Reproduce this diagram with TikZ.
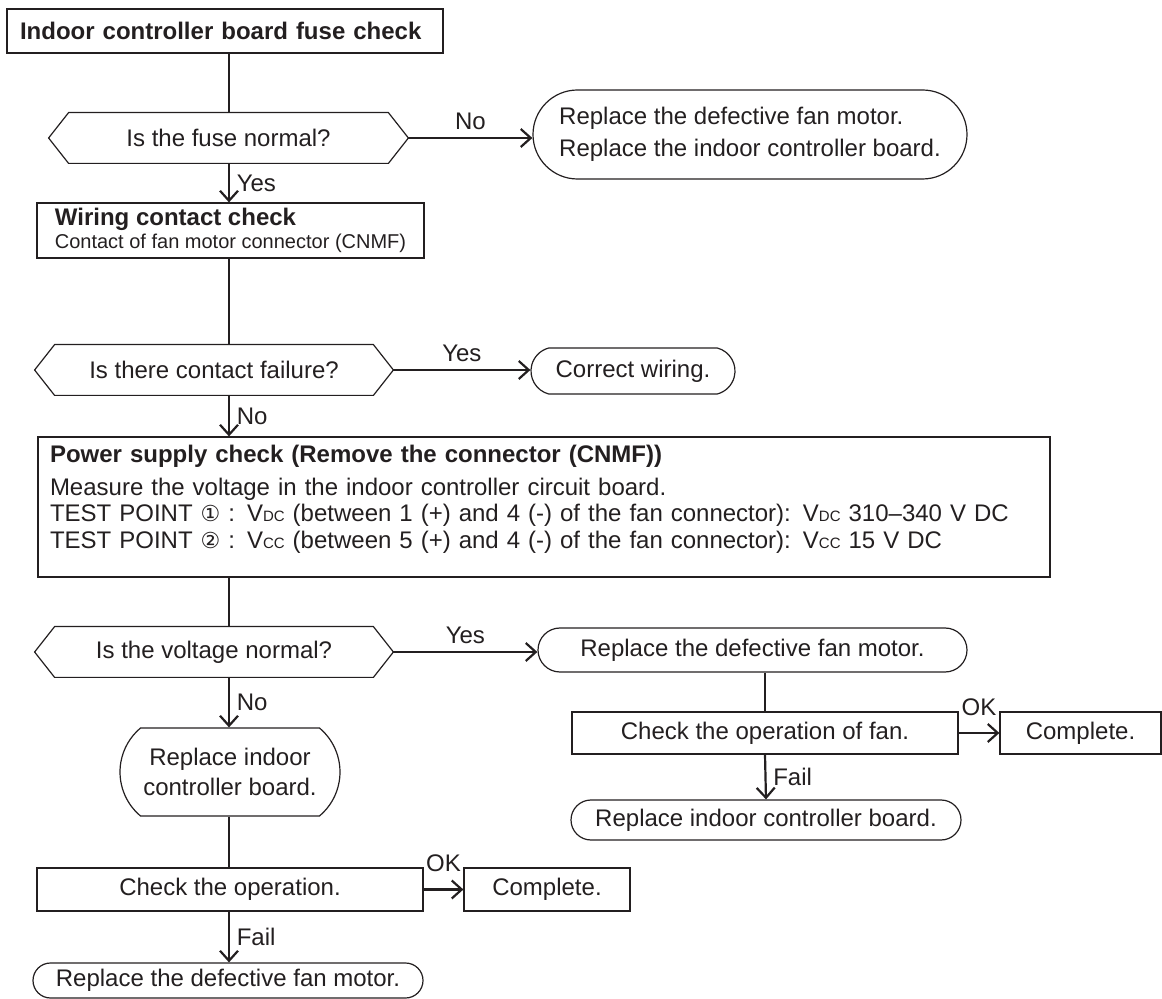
\documentclass[tikz,border=0pt]{standalone}
\usepackage{fontspec}
\setmainfont{Liberation Sans}
\newfontfamily\circfont{DejaVu Sans}
\usetikzlibrary{arrows.meta,positioning,shapes.misc}
\definecolor{ink}{HTML}{231F20}
\newcommand{\vsub}[1]{{\fontsize{7.5}{8}\selectfont #1}}
\newcommand{\tp}[1]{{\circfont\fontsize{11}{11}\selectfont #1}}

\begin{document}
\begin{tikzpicture}[x=0.5pt, y=-0.5pt, font=\fontsize{12}{14}\selectfont, text=ink,
  box/.style={draw=ink, line width=0.6pt, inner sep=0pt},
  decision/.style={inner sep=0pt, minimum width=#1, minimum height=25pt},
  terminal/.style={draw=ink, line width=0.6pt, rounded rectangle, inner sep=0pt},
  border/.style={draw=ink, line width=0.6pt},
  conn/.style={draw=ink, line width=1.1pt},
  connarrow/.style={conn, -{Straight Barb[length=5pt,width=9pt]}}]
  \useasboundingbox (0,0) rectangle (1162,999);
  \coordinate (spine) at (229,0);

  % main column
  \node[box, minimum width=218pt, minimum height=22pt, text width=205pt, align=left,
        font=\fontsize{12}{14}\selectfont\bfseries] (start) at (225,31) {Indoor controller board fuse check};
  \node[decision=179.5pt] (fuse) at (228.5,138) {Is the fuse normal?};
  \node[terminal, minimum width=217pt, minimum height=44.5pt, align=left,
        font=\fontsize{12}{16}\selectfont] (replaceA) at (750,134.5)
        {Replace the defective fan motor.\\Replace the indoor controller board.};
  \node[box, minimum width=193.5pt, minimum height=27.5pt, align=left,
        font=\fontsize{12}{11.5}\selectfont] (wiring) at (230.5,230.5)
        {\textbf{Wiring contact check}\\{\fontsize{10}{11.5}\selectfont Contact of fan motor connector (CNMF)}};
  \node[decision=179pt] (contact) at (214,370) {Is there contact failure?};
  \node[terminal, minimum width=102pt, minimum height=23pt, rounded rectangle arc length=150] (correct) at (633,371) {Correct wiring.};
  \node[box, minimum width=506pt, minimum height=70pt, text width=494pt, align=left,
        font=\fontsize{12}{13.25}\selectfont] (power) at (544,507)
        {\textbf{Power supply check (Remove the connector (CNMF))}\\[3pt]
         Measure the voltage in the indoor controller circuit board.\\
         TEST POINT \tp{①} : V\vsub{DC} (between 1 (+) and 4 (-) of the fan connector): V\vsub{DC} 310–340 V DC\\
         TEST POINT \tp{②} : V\vsub{CC} (between 5 (+) and 4 (-) of the fan connector): V\vsub{CC} 15 V DC\rule[-10pt]{0pt}{10pt}};
  \node[decision=179pt] (voltage) at (214,652) {Is the voltage normal?};

  % right branch
  \node[terminal, minimum width=214.5pt, minimum height=22pt] (replaceB) at (752.5,650) {Replace the defective fan motor.};
  \node[box, minimum width=193pt, minimum height=21pt] (checkfan) at (765,733) {Check the operation of fan.};
  \node[box, minimum width=80.5pt, minimum height=21pt] (doneR) at (1080.5,733) {Complete.};
  \node[terminal, minimum width=195pt, minimum height=20pt] (boardR) at (766,820) {Replace indoor controller board.};

  % left branch
  \node[terminal, minimum width=110pt, minimum height=44pt, rounded rectangle arc length=100, align=center,
        font=\fontsize{12}{15}\selectfont] (boardL) at (230,772) {Replace indoor\\controller board.};
  \node[box, minimum width=193pt, minimum height=21.5pt] (checkop) at (230,889.5) {Check the operation.};
  \node[box, minimum width=83pt, minimum height=21.5pt] (doneL) at (547,889.5) {Complete.};
  \node[terminal, minimum width=195pt, minimum height=17.5pt] (fanL) at (228,980.5) {Replace the defective fan motor.};

  \foreach \h in {fuse,contact,voltage}
    \draw[border] ([xshift=10pt]\h.north west) -- ([xshift=-10pt]\h.north east) -- (\h.east)
      -- ([xshift=-10pt]\h.south east) -- ([xshift=10pt]\h.south west) -- (\h.west) -- cycle;

  \draw[conn] (start.south -| spine) -- (fuse.north -| spine);
  \draw[connarrow] (fuse.east) -- node[above] {No} (fuse.east -| replaceA.west);
  \draw[connarrow] (fuse.south -| spine) -- node[right] {Yes} (wiring.north -| spine);
  \draw[conn] (wiring.south -| spine) -- (contact.north -| spine);
  \draw[connarrow] (contact.east) -- node[above] {Yes} (contact.east -| correct.west);
  \draw[connarrow] (contact.south -| spine) -- node[right] {No} (power.north -| spine);
  \draw[conn] (power.south -| spine) -- (voltage.north -| spine);
  \draw[connarrow] (voltage.east) -- node[above] {Yes} (voltage.east -| replaceB.west);
  \draw[conn] (replaceB.south -| checkfan.north) -- (checkfan.north);
  \draw[connarrow] (checkfan.east) -- node[above=5pt] {OK} (doneR.west);
  \draw[connarrow] (checkfan.south) -- node[right] {Fail} (boardR.north);
  \draw[connarrow] (voltage.south -| spine) -- node[right] {No} (boardL.north -| spine);
  \draw[conn] (boardL.south -| spine) -- (checkop.north -| spine);
  \draw[connarrow] (checkop.east) -- node[above=5pt] {OK} (doneL.west);
  \draw[connarrow] (checkop.south -| spine) -- node[right] {Fail} (fanL.north -| spine);
\end{tikzpicture}
\end{document}
